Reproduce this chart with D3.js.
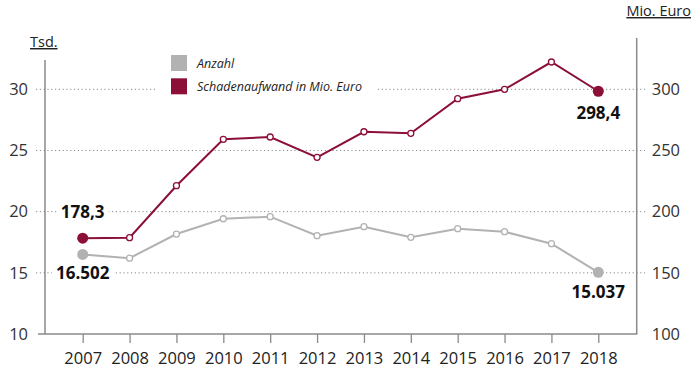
<!DOCTYPE html>
<html>
<head>
<meta charset="utf-8">
<script src="https://cdn.jsdelivr.net/npm/d3@7"></script>
<style>
  body { margin: 0; background: #fff; }
  svg text { font-family: "Open Sans", sans-serif; }
</style>
</head>
<body>
<svg width="700" height="379"></svg>
<script>
// Data
const years = [2007, 2008, 2009, 2010, 2011, 2012, 2013, 2014, 2015, 2016, 2017, 2018];
const anzahl = [16.502, 16.2, 18.17, 19.42, 19.59, 18.04, 18.77, 17.9, 18.61, 18.36, 17.38, 15.037];
const schaden = [178.3, 178.7, 221.2, 259.1, 261.0, 244.4, 265.3, 264.0, 292.3, 300.0, 322.3, 298.4];
const leftTicks = [10, 15, 20, 25, 30];
const rightTicks = [100, 150, 200, 250, 300];
const gridTicks = [15, 20, 25, 30];
const legendItems = ["Anzahl", "Schadenaufwand in Mio. Euro"];

const GRAY = "#b2b2b2";
const RED = "#8c0f38";
const AXIS = "#8a8a8a";

const svg = d3.select("svg");

// Scales
const x = d3.scaleLinear().domain([2007, 2018]).range([82.7, 598.3]);
const yL = d3.scaleLinear().domain([10, 30]).range([334, 89.3]);
const yR = d3.scaleLinear().domain([100, 300]).range([334, 89.3]);

// Dotted gridlines
svg.append("g")
    .selectAll("line")
    .data(gridTicks)
    .enter().append("line")
    .attr("x1", 36)
    .attr("x2", 645)
    .attr("y1", d => yL(d))
    .attr("y2", d => yL(d))
    .attr("stroke", "#8a8a8a")
    .attr("stroke-width", 1)
    .attr("stroke-dasharray", "1.2,2.6");

// Axis lines
svg.append("line").attr("x1", 45).attr("x2", 45).attr("y1", 60).attr("y2", 334)
    .attr("stroke", AXIS).attr("stroke-width", 1.5);
svg.append("line").attr("x1", 636.7).attr("x2", 636.7).attr("y1", 38).attr("y2", 334)
    .attr("stroke", AXIS).attr("stroke-width", 1.5);
svg.append("line").attr("x1", 38).attr("x2", 637.4).attr("y1", 334).attr("y2", 334)
    .attr("stroke", AXIS).attr("stroke-width", 1.5);

// Left axis labels
const leftAxis = svg.append("g")
    .attr("transform", "translate(45,0)")
    .call(d3.axisLeft(yL).tickValues(leftTicks).tickSize(0).tickPadding(17));
leftAxis.select(".domain").remove();
leftAxis.selectAll("text").attr("font-size", 16.5).attr("fill", "#333")
    .style("font-family", "'Open Sans', sans-serif");

// Right axis labels
const rightAxis = svg.append("g")
    .attr("transform", "translate(636.7,0)")
    .call(d3.axisRight(yR).tickValues(rightTicks).tickSize(0).tickPadding(15));
rightAxis.select(".domain").remove();
rightAxis.selectAll("text").attr("font-size", 16.5).attr("fill", "#333")
    .style("font-family", "'Open Sans', sans-serif");

// Bottom axis
const bottomAxis = svg.append("g")
    .attr("transform", "translate(0,334)")
    .call(d3.axisBottom(x).tickValues(years).tickFormat(d3.format("d")).tickSize(9).tickPadding(9));
bottomAxis.select(".domain").remove();
bottomAxis.selectAll("line").attr("stroke", AXIS).attr("stroke-width", 1.3);
bottomAxis.selectAll("text").attr("font-size", 16.5).attr("fill", "#222")
    .style("font-family", "'Open Sans', sans-serif");

// Axis titles
svg.append("text").attr("x", 30).attr("y", 47).attr("font-size", 14.5).attr("fill", "#222")
    .attr("text-decoration", "underline").text("Tsd.");
svg.append("text").attr("x", 691).attr("y", 16).attr("text-anchor", "end")
    .attr("font-size", 14.5).attr("fill", "#222")
    .attr("text-decoration", "underline").text("Mio. Euro");

// Legend
svg.append("rect").attr("x", 156).attr("y", 50).attr("width", 222).attr("height", 50).attr("fill", "#fff");
const legend = svg.append("g");
legend.selectAll("rect")
    .data(legendItems)
    .enter().append("rect")
    .attr("x", 171)
    .attr("y", (d, i) => 55 + i * 23.3)
    .attr("width", 16)
    .attr("height", 16)
    .attr("fill", (d, i) => i === 0 ? GRAY : RED);
legend.selectAll("text")
    .data(legendItems)
    .enter().append("text")
    .attr("x", 197)
    .attr("y", (d, i) => 67.5 + i * 23.3)
    .attr("font-size", 12.5)
    .attr("font-style", "italic")
    .attr("fill", "#222")
    .text(d => d);

// Lines
const lineL = d3.line().x((d, i) => x(years[i])).y(d => yL(d));
const lineR = d3.line().x((d, i) => x(years[i])).y(d => yR(d));

svg.append("path").datum(anzahl).attr("d", lineL)
    .attr("fill", "none").attr("stroke", GRAY).attr("stroke-width", 2);
svg.append("path").datum(schaden).attr("d", lineR)
    .attr("fill", "none").attr("stroke", RED).attr("stroke-width", 2);

// Points
function drawPoints(values, yScale, color) {
    const last = values.length - 1;
    svg.append("g")
        .selectAll("circle")
        .data(values)
        .enter().append("circle")
        .attr("cx", (d, i) => x(years[i]))
        .attr("cy", d => yScale(d))
        .attr("r", (d, i) => (i === 0 || i === last) ? 5.5 : 3)
        .attr("fill", (d, i) => (i === 0 || i === last) ? color : "#fff")
        .attr("stroke", (d, i) => (i === 0 || i === last) ? "none" : color)
        .attr("stroke-width", 1.3);
}
drawPoints(anzahl, yL, GRAY);
drawPoints(schaden, yR, RED);

// Value labels with white background
const valueLabels = [
    { text: "178,3", x: x(2007), y: yL(20) },
    { text: "16.502", x: x(2007), y: yL(15) },
    { text: "298,4", x: x(2018), y: yR(schaden[11]) + 22 },
    { text: "15.037", x: x(2018), y: yL(anzahl[11]) + 20 }
];
valueLabels.forEach(function (l) {
    const g = svg.append("g");
    const t = g.append("text")
        .attr("x", l.x)
        .attr("y", l.y)
        .attr("dy", "0.35em")
        .attr("text-anchor", "middle")
        .attr("font-size", 17)
        .attr("font-weight", 700)
        .attr("fill", "#111")
        .text(l.text);
    const bb = t.node().getBBox();
    g.insert("rect", "text")
        .attr("x", bb.x - 4)
        .attr("y", bb.y + 2)
        .attr("width", bb.width + 8)
        .attr("height", bb.height - 4)
        .attr("fill", "#fff");
});
</script>
</body>
</html>
